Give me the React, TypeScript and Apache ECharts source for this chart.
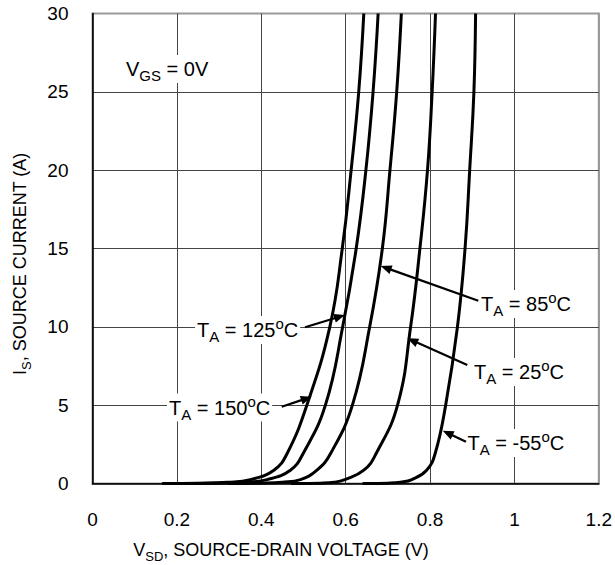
import React, { useEffect, useRef } from "react";
import * as echarts from "echarts";

const FONT = "'Liberation Sans', Arial, Helvetica, sans-serif";

// axis ticks
const xMin = 0;
const xMax = 1.2;
const xStep = 0.2;
const yMin = 0;
const yMax = 30;
const yStep = 5;

// source current levels (A) at which the voltages were read
const currentLevels = [0, 0.02, 0.08, 0.25, 0.85, 1.9, 5, 10, 15, 20, 25, 30];

// source-drain voltage (V) for each temperature at the levels above
const v150 = [0.165, 0.25, 0.32, 0.374, 0.43, 0.461, 0.508, 0.5625, 0.592, 0.613, 0.631, 0.643];
const v125 = [0.22, 0.3, 0.36, 0.414, 0.469, 0.499, 0.552, 0.593, 0.625, 0.648, 0.665, 0.677];
const v85 = [0.32, 0.4, 0.45, 0.493, 0.532, 0.564, 0.616, 0.657, 0.687, 0.705, 0.721, 0.732];
const v25 = [0.47, 0.54, 0.573, 0.598, 0.643, 0.672, 0.723, 0.754, 0.776, 0.794, 0.805, 0.813];
const vm55 = [0.64, 0.7, 0.73, 0.757, 0.792, 0.812, 0.837, 0.865, 0.883, 0.894, 0.904, 0.908];

const curveNames = ["150", "125", "85", "25", "-55"];
const curveVolts = [v150, v125, v85, v25, vm55];

// annotation labels (text anchor, arrow tail, arrow tip in pixels)
const annotations = [
  { t: "125", tx: 195, ty: 330, tail: [305, 327.3], tip: [345, 315] },
  { t: "150", tx: 167, ty: 407.5, tail: [281.7, 406.7], tip: [311.7, 396.7] },
  { t: "85", tx: 479, ty: 304, tail: [478.3, 300.7], tip: [380.7, 266] },
  { t: "25", tx: 472, ty: 372, tail: [467.3, 365], tip: [407.3, 338.3] },
  { t: "-55", tx: 465.5, ty: 443, tail: [466, 441.7], tip: [442.7, 430.7] },
];

const rich = {
  b: { fontSize: 20, fontFamily: FONT, fill: "#000", lineHeight: 28 },
  s: { fontSize: 15, fontFamily: FONT, fill: "#000", verticalAlign: "bottom", lineHeight: 15 },
  o: { fontSize: 15, fontFamily: FONT, fill: "#000", verticalAlign: "top", lineHeight: 17 },
};

const richAxis = {
  b: { fontSize: 18, fontFamily: FONT, fill: "#000", lineHeight: 26 },
  s: { fontSize: 13, fontFamily: FONT, fill: "#000", verticalAlign: "bottom", lineHeight: 13 },
};

function arrowElements(tail: number[], tip: number[]) {
  const dx = tip[0] - tail[0];
  const dy = tip[1] - tail[1];
  const len = Math.hypot(dx, dy);
  const ux = dx / len;
  const uy = dy / len;
  const headLen = 11;
  const half = 4.5;
  const bx = tip[0] - ux * headLen;
  const by = tip[1] - uy * headLen;
  const px = -uy;
  const py = ux;
  return [
    {
      type: "line",
      z: 110,
      shape: { x1: tail[0], y1: tail[1], x2: bx + ux, y2: by + uy },
      style: { stroke: "#000", lineWidth: 2.2 },
    },
    {
      type: "polygon",
      z: 110,
      shape: {
        points: [
          [tip[0], tip[1]],
          [bx + px * half, by + py * half],
          [bx - px * half, by - py * half],
        ],
      },
      style: { fill: "#000" },
    },
  ];
}

export default function App() {
  const ref = useRef<HTMLDivElement>(null);

  useEffect(() => {
    if (!ref.current) return;
    const chart = echarts.init(ref.current, null, { renderer: "svg" });

    const series = curveNames.map((name, k) => {
      const pts = curveVolts[k].map((v, i) => [v, currentLevels[i]]);
      return {
        name,
        type: "custom",
        coordinateSystem: "cartesian2d",
        data: pts,
        encode: { x: 0, y: 1 },
        z: 5,
        renderItem: (params: any, api: any) => {
          if (params.dataIndex !== 0) return null;
          const px = pts.map((p) => api.coord(p));
          return {
            type: "polyline",
            shape: { points: px, smooth: 0.45 },
            style: { stroke: "#000", lineWidth: 3, fill: null },
          };
        },
      };
    });

    const graphic: any[] = [];
    annotations.forEach((a) => {
      graphic.push({
        type: "text",
        z: 100,
        x: a.tx,
        y: a.ty,
        style: {
          text: `{b|T}{s|A}{b| = ${a.t}}{o|o}{b|C}`,
          rich,
          align: "left",
          verticalAlign: "middle",
          backgroundColor: "#fff",
          padding: [0, 2],
        },
      });
      arrowElements(a.tail, a.tip).forEach((e) => graphic.push(e));
    });

    graphic.push({
      type: "text",
      z: 100,
      x: 124,
      y: 69,
      style: {
        text: "{b|V}{s|GS}{b| = 0V}",
        rich,
        align: "left",
        verticalAlign: "middle",
        backgroundColor: "#fff",
        padding: [0, 2],
      },
    });

    graphic.push({
      type: "text",
      z: 100,
      x: 133.3,
      y: 550,
      style: {
        text: "{b|V}{s|SD}{b|, SOURCE-DRAIN VOLTAGE (V)}",
        rich: richAxis,
        align: "left",
        verticalAlign: "middle",
      },
    });

    graphic.push({
      type: "text",
      z: 100,
      x: 19.5,
      y: 375,
      rotation: Math.PI / 2,
      style: {
        text: "{b|I}{s|S}{b|, SOURCE CURRENT (A)}",
        rich: richAxis,
        align: "left",
        verticalAlign: "middle",
      },
    });

    chart.setOption({
      animation: false,
      backgroundColor: "#fff",
      grid: {
        left: 92.5,
        top: 13.5,
        width: 506.5,
        height: 470,
        show: true,
        borderColor: "#999",
        borderWidth: 2,
        backgroundColor: "transparent",
      },
      xAxis: {
        type: "value",
        min: xMin,
        max: xMax,
        interval: xStep,
        axisLine: { show: true, onZero: false, lineStyle: { color: "#000", width: 1.5 } },
        axisTick: { show: false },
        axisLabel: { fontSize: 19, color: "#000", fontFamily: FONT, margin: 26 },
        splitLine: {
          show: true,
          lineStyle: { color: ["#444", "#444", "#444", "#444", "#444", "#444", "#999"], width: 1 },
        },
      },
      yAxis: {
        type: "value",
        min: yMin,
        max: yMax,
        interval: yStep,
        axisLine: { show: true, onZero: false, lineStyle: { color: "#000", width: 1.5 } },
        axisTick: { show: false },
        axisLabel: { fontSize: 19, color: "#000", fontFamily: FONT, margin: 24 },
        splitLine: {
          show: true,
          lineStyle: { color: ["#444", "#444", "#444", "#444", "#444", "#444", "#999"], width: 1 },
        },
      },
      series,
      graphic,
    });

    return () => chart.dispose();
  }, []);

  return (
    <div
      ref={ref}
      style={{ position: "absolute", left: 0, top: 0, width: 615, height: 565, background: "#fff" }}
    />
  );
}
